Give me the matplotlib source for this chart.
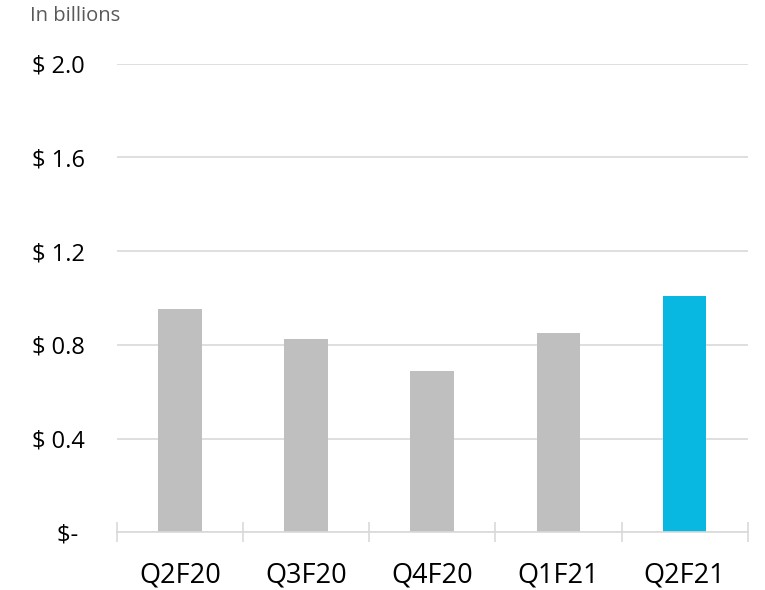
import matplotlib.pyplot as plt
import matplotlib
import numpy as np

matplotlib.rcParams.update({'font.family': ['Open Sans', 'DejaVu Sans']})

quarters = ['Q2F20', 'Q3F20', 'Q4F20', 'Q1F21', 'Q2F21']
values = [0.952, 0.824, 0.690, 0.851, 1.009]
colors = ['#BFBFBF', '#BFBFBF', '#BFBFBF', '#BFBFBF', '#08B8E0']
yticks = [0, 0.4, 0.8, 1.2, 1.6, 2.0]
ylabels = ['$- ', '$ 0.4', '$ 0.8', '$ 1.2', '$ 1.6', '$ 2.0']

fig = plt.figure(figsize=[7.65, 5.9], dpi=100)
ax = fig.add_axes([0.1525, 0.0975, 0.825, 0.7945])

x = np.arange(len(quarters))
ax.bar(x, values, width=0.345, color=colors, zorder=3)

ax.set_xlim(-0.5, len(quarters) - 0.5)
ax.set_ylim(0, 2.0)

ax.set_yticks(yticks)
ax.set_yticklabels(ylabels, fontsize=17, color='black')
ax.tick_params(axis='y', length=0, pad=23)
ax.yaxis.grid(True, color='#D9D9D9', linewidth=1.2, zorder=0)

ax.set_xticks(np.arange(-0.5, len(quarters)), labels=[''] * (len(quarters) + 1))
ax.set_xticks(x, labels=quarters, minor=True)
ax.tick_params(axis='x', which='major', direction='inout', length=14.5,
               width=1.2, color='#D9D9D9')
ax.tick_params(axis='x', which='minor', length=0, pad=21, labelsize=19.5)

for side in ['top', 'right', 'left']:
    ax.spines[side].set_visible(False)
ax.spines['bottom'].set_color('#D9D9D9')
ax.spines['bottom'].set_linewidth(1.2)
ax.spines['bottom'].set_zorder(4)

fig.text(30 / 765, 1 - 16 / 590, 'In billions', fontsize=14.5, color='#595959',
         ha='left', va='center')

fig.savefig('out.png', dpi=100)
plt.close()
